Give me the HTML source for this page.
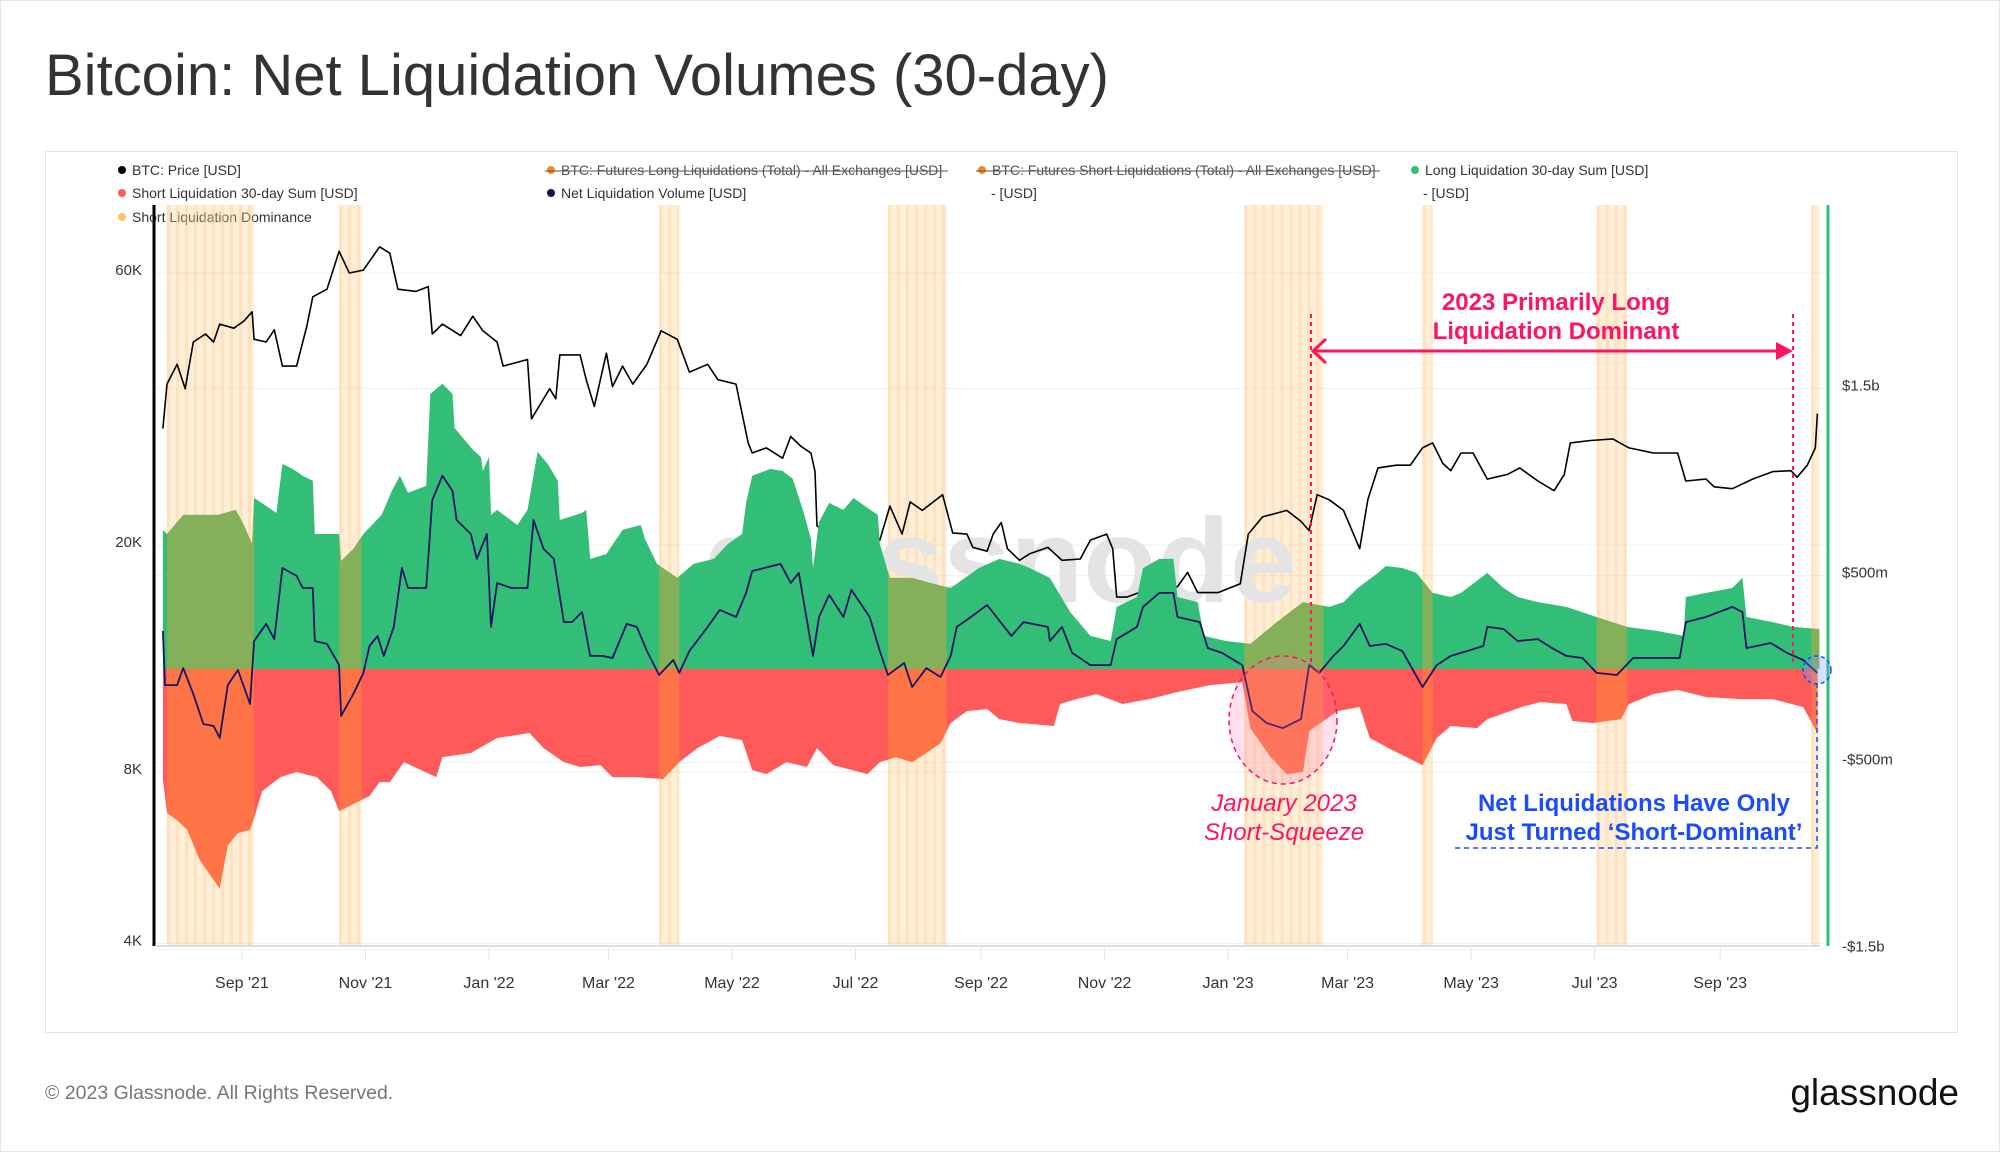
<!DOCTYPE html>
<html><head><meta charset="utf-8"><style>
html,body{margin:0;padding:0;background:#fff;}
body{width:2000px;height:1152px;overflow:hidden;font-family:"Liberation Sans",sans-serif;}
svg text{font-family:"Liberation Sans",sans-serif;}
</style></head><body>
<svg id="chart" width="2000" height="1152" viewBox="0 0 2000 1152" xmlns="http://www.w3.org/2000/svg">
<defs><clipPath id="areaClip"><path id="clipG" d=""/><path id="clipR" d=""/></clipPath></defs>
<rect x="0.5" y="0.5" width="1999" height="1151" fill="#fff" stroke="#e6e6e6"/>
<text x="45" y="95" font-size="58" fill="#333">Bitcoin: Net Liquidation Volumes (30-day)</text>
<rect x="45.5" y="151.5" width="1912" height="881" fill="#fff" stroke="#e4e4e4"/>
<g id="legend" font-size="14" fill="#333">
  <g><circle cx="122" cy="170" r="4" fill="#000"/><text x="132" y="175">BTC: Price [USD]</text></g>
  <g><circle cx="122" cy="193" r="4" fill="#ff5a5a"/><text x="132" y="198">Short Liquidation 30-day Sum [USD]</text></g>
  <g><circle cx="122" cy="217" r="4" fill="#ffc266"/><text x="132" y="222">Short Liquidation Dominance</text></g>
  <g><circle cx="551" cy="170" r="4" fill="#f28c1c"/><text x="561" y="175" fill="#555">BTC: Futures Long Liquidations (Total) - All Exchanges [USD]</text><line x1="545" y1="171" x2="948" y2="171" stroke="#555" stroke-width="1"/></g>
  <g><circle cx="551" cy="193" r="4" fill="#1b0a5c"/><text x="561" y="198">Net Liquidation Volume [USD]</text></g>
  <g><circle cx="982" cy="170" r="4" fill="#f28c1c"/><text x="992" y="175" fill="#555">BTC: Futures Short Liquidations (Total) - All Exchanges [USD]</text><line x1="976" y1="171" x2="1380" y2="171" stroke="#555" stroke-width="1"/><text x="991" y="198">- [USD]</text></g>
  <g><circle cx="1415" cy="170" r="4" fill="#2fbf71"/><text x="1425" y="175">Long Liquidation 30-day Sum [USD]</text><text x="1423" y="198">- [USD]</text></g>
</g>
<g id="grid"></g>
<g id="bandsLight"></g>
<text x="1000" y="602" font-size="120" fill="#e4e4e4" text-anchor="middle" font-weight="bold">glassnode</text>
<g id="price"></g>
<g id="areas"></g>
<g id="bands" clip-path="url(#areaClip)"></g>
<g id="net"></g>
<g id="axes"></g>
<g id="annotations">
  <line x1="1311" y1="314" x2="1311" y2="665" stroke="#ff1460" stroke-width="2" stroke-dasharray="4,4"/>
  <line x1="1793" y1="314" x2="1793" y2="665" stroke="#ff1460" stroke-width="2" stroke-dasharray="4,4"/>
  <line x1="1313" y1="351" x2="1780" y2="351" stroke="#ff1460" stroke-width="3"/>
  <polyline points="1326,339 1313,351 1326,363" fill="none" stroke="#ff1460" stroke-width="3"/>
  <polygon points="1793,351 1776,342 1776,360" fill="#ff1460"/>
  <text x="1556" y="310" font-size="24" font-weight="bold" fill="#ff1460" text-anchor="middle">2023 Primarily Long</text>
  <text x="1556" y="339" font-size="24" font-weight="bold" fill="#ff1460" text-anchor="middle">Liquidation Dominant</text>
  <ellipse cx="1283" cy="720" rx="54" ry="64" fill="rgba(255,120,170,0.22)" stroke="#ff1460" stroke-width="1.5" stroke-dasharray="5,4"/>
  <text x="1284" y="811" font-size="24" font-style="italic" fill="#ff1460" text-anchor="middle">January 2023</text>
  <text x="1284" y="840" font-size="24" font-style="italic" fill="#ff1460" text-anchor="middle">Short-Squeeze</text>
  <text x="1634" y="811" font-size="24" font-weight="bold" fill="#1a4cff" text-anchor="middle">Net Liquidations Have Only</text>
  <text x="1634" y="840" font-size="24" font-weight="bold" fill="#1a4cff" text-anchor="middle">Just Turned ‘Short-Dominant’</text>
  <polyline points="1455,848 1817,848 1817,682" fill="none" stroke="#1a4cff" stroke-width="1.5" stroke-dasharray="5,4"/>
  <circle cx="1817" cy="670" r="14" fill="rgba(120,160,255,0.3)" stroke="#1a4cff" stroke-width="1.5" stroke-dasharray="4,3"/>
</g>
<text x="45" y="1099" font-size="19.5" fill="#777">© 2023 Glassnode. All Rights Reserved.</text>
<text x="1959" y="1105" font-size="37" fill="#111" text-anchor="end">glassnode</text>
</svg>
<script>
// days since 2021-07-26
const priceDays=[-2,0,5,9,13,19,23,26,33,38,42,43,49,53,57,64,69,72,79,85,90,97,105,110,114,123,129,131,136,145,151,156,163,166,178,180,189,192,194,204,207,211,217,220,225,230,237,244,252,258,267,272,281,284,287,289,296,304,308,313,318,320,321,337,352,357,363,367,373,383,388,395,398,405,408,412,415,421,426,435,442,451,456,464,467,469,474,480,490,499,504,509,519,530,534,541,553,560,564,568,574,581,589,593,598,607,614,620,625,630,634,639,645,652,662,668,677,685,690,693,703,714,722,734,746,750,760,764,773,783,793,802,805,810,814,815];
const priceValues=[32000,38300,41500,37600,45400,46900,45400,48800,48000,49400,51300,45900,45400,47700,41200,41200,48300,54500,56200,65500,60000,60700,66700,65000,56200,55700,56800,46900,48800,46600,50400,47500,45400,41200,42300,33300,37600,36100,43100,43100,39000,35000,43400,37900,41200,38300,41500,47500,45900,40200,41500,39000,38300,34000,30200,29000,29600,28400,31000,29800,29000,26900,21600,19800,20400,23400,20900,23800,23000,24500,21000,20900,19800,19500,20900,21900,19700,18800,19300,19800,18800,18900,20400,20900,19700,16200,16200,16500,16700,16900,17900,16500,16500,17100,20900,22400,23000,22000,21200,24500,24000,23000,19700,24000,27300,27600,27600,29600,30200,27800,27000,29000,29000,26100,26600,27300,25900,24900,26600,30200,30500,30700,29600,29000,29000,25900,26100,25300,25100,26100,26900,27000,26300,27600,29600,34000];
const longDays=[-2,0,8,16,25,34,38,42,43,54,57,62,67,72,73,85,86,92,97,106,111,115,119,128,130,136,141,142,151,155,156,159,160,163,173,178,183,188,193,194,205,207,209,217,225,234,236,242,252,260,270,277,284,286,289,298,304,309,314,318,319,322,327,334,339,346,351,352,357,368,377,387,401,411,421,426,436,446,456,466,469,479,482,490,497,499,509,512,523,535,548,561,574,581,588,598,602,610,617,625,634,639,652,660,667,677,691,706,721,736,749,750,760,773,778,780,793,803,816];
const longValues=[744,722,824,824,824,851,770,669,915,835,1097,1070,1033,1006,722,722,578,642,722,824,952,1033,942,979,1471,1525,1471,1289,1172,1134,1059,1134,824,851,770,851,1161,1097,1006,797,835,851,589,615,744,770,696,562,487,562,589,669,722,888,1033,1070,1059,1017,851,696,540,786,888,851,915,861,824,669,487,487,460,433,540,589,562,540,487,305,177,150,332,385,540,589,589,385,358,177,150,134,251,358,332,358,433,514,551,540,514,407,385,407,514,433,385,358,332,278,225,203,177,385,407,433,487,278,251,225,214];
const shortDays=[-2,0,5,10,16,21,26,30,35,41,43,47,56,64,74,81,85,95,100,105,110,117,133,136,150,163,179,186,196,204,214,220,232,245,253,262,273,284,289,296,306,316,321,329,346,352,360,368,375,382,387,395,405,411,421,438,441,449,459,472,485,499,515,531,535,545,553,561,564,571,578,589,594,605,620,627,634,647,652,669,678,691,694,704,718,722,734,746,760,777,793,808,815];
const shortValues=[-589,-770,-808,-861,-1017,-1097,-1172,-942,-877,-861,-797,-653,-578,-551,-578,-653,-760,-706,-679,-605,-605,-498,-578,-471,-449,-369,-342,-423,-498,-524,-514,-578,-578,-589,-498,-423,-358,-380,-540,-562,-498,-524,-423,-514,-562,-498,-471,-498,-449,-396,-289,-225,-214,-268,-289,-305,-187,-161,-134,-187,-161,-123,-86,-70,-316,-471,-562,-551,-332,-278,-225,-203,-369,-433,-514,-369,-305,-316,-268,-203,-177,-187,-278,-289,-268,-187,-134,-112,-150,-161,-161,-203,-342];
const netDays=[-2,-1,5,8,13,18,23,26,30,35,41,43,49,53,57,64,67,72,73,79,85,86,92,97,100,104,107,112,116,119,128,131,136,141,143,150,153,158,160,163,170,178,181,186,191,196,200,205,209,215,220,227,232,237,243,250,253,258,267,273,281,286,289,303,308,312,319,322,327,334,338,347,352,356,364,368,375,382,387,390,397,405,417,423,435,436,442,447,456,466,469,479,482,490,497,499,510,514,521,531,536,543,551,560,564,569,576,581,589,594,602,610,620,627,634,639,650,652,660,667,677,684,691,699,706,716,724,747,750,760,773,778,780,792,800,808,815];
const netValues=[203,-86,-86,5,-134,-294,-305,-369,-86,-5,-187,150,241,160,540,498,433,433,150,134,21,-251,-134,-21,123,177,70,225,540,433,433,904,1033,952,797,722,589,722,225,460,433,433,797,642,589,251,251,305,70,70,59,241,225,96,-32,48,-21,96,225,316,278,407,524,562,460,514,70,278,396,278,423,278,96,-32,32,-96,5,-43,70,225,278,342,177,251,225,150,225,86,21,21,160,225,332,407,407,278,251,112,86,21,-225,-289,-316,-268,21,-21,70,123,241,123,134,96,-96,21,70,86,123,225,214,150,160,112,70,59,-21,-32,59,59,251,278,332,305,112,139,86,48,-21];
const bandStart=[0,85,243,356,532,620,706,812];
const bandEnd=[43,96,253,385,571,625,721,816];
const monthDays=[37,98,159,218,279,340,402,463,524,583,644,705,767];
const monthLabels=["Sep '21","Nov '21","Jan '22","Mar '22","May '22","Jul '22","Sep '22","Nov '22","Jan '23","Mar '23","May '23","Jul '23","Sep '23"];
const priceTicks=[60000,20000,8000,4000];
const priceTickLabels=["60K","20K","8K","4K"];
const valueTicks=[1500,500,-500,-1500];
const valueTickLabels=["$1.5b","$500m","-$500m","-$1.5b"];

const NS='http://www.w3.org/2000/svg';
const X0=155,X1=1828,TOP=205,BOT=946;
function xS(d){return 167+2.025*d;}
function yP(p){return 273+570*Math.log10(60000/p);}
function yV(m){return 669-m*0.187;}
function mk(tag,attrs,parent){const e=document.createElementNS(NS,tag);for(const k in attrs)e.setAttribute(k,attrs[k]);parent.appendChild(e);return e;}
const grid=document.getElementById('grid');
priceTicks.forEach((p,i)=>{
  const l=mk('line',{x1:X0,x2:X1,y1:yP(p),y2:yP(p),stroke:'#efefef','stroke-width':1},grid);
  
  
});
valueTicks.forEach((v,i)=>{
  const l=mk('line',{x1:X0,x2:X1,y1:yV(v),y2:yV(v),stroke:'#f2f2f2','stroke-width':1},grid);
  
  
});
function linePath(days,vals,yf){return days.map((d,i)=>(i?'L':'M')+xS(d).toFixed(1)+','+yf(vals[i]).toFixed(1)).join('');}
const bandsLight=document.getElementById('bandsLight');
const bands=document.getElementById('bands');
bandStart.forEach((s,i)=>{
  const x0=xS(s),x1=Math.max(x0+3,xS(bandEnd[i]));
  for(let x=x0;x<x1;x+=3){
    const op=(Math.floor((x-x0)/3)%3===0)?0.55:0.32;
    const r=mk('rect',{x:x,y:TOP,width:Math.min(3,x1-x),height:BOT-TOP,fill:'#fdc987',opacity:op},bandsLight);
    
    
  }
});
const price=document.getElementById('price');
const pp=mk('path',{d:linePath(priceDays,priceValues,yP),fill:'none',stroke:'#000','stroke-width':1.6,'stroke-linejoin':'round'},price);


const areas=document.getElementById('areas');
const z=yV(0);
function areaPath(days,vals){return 'M'+xS(days[0]).toFixed(1)+','+z+linePath(days,vals,yV).replace(/^M/,'L')+'L'+xS(days[days.length-1]).toFixed(1)+','+z+'Z';}
const gd=areaPath(longDays,longValues), rd=areaPath(shortDays,shortValues);
document.getElementById('clipG').setAttribute('d',gd);
document.getElementById('clipR').setAttribute('d',rd);
const ga=mk('path',{d:gd,fill:'#33be78'},areas);


const ra=mk('path',{d:rd,fill:'#ff5a5a'},areas);


bandStart.forEach((s,i)=>{
  const r=mk('rect',{x:xS(s),y:TOP,width:Math.max(3,xS(bandEnd[i])-xS(s)),height:BOT-TOP,fill:'#ff9a2a',opacity:0.4},bands);
  
  
});
const net=document.getElementById('net');
const np=mk('path',{d:linePath(netDays,netValues,yV),fill:'none',stroke:'#1b1464','stroke-width':1.8,'stroke-linejoin':'round'},net);


const axes=document.getElementById('axes');
const la=mk('line',{x1:154,x2:154,y1:TOP,y2:BOT,stroke:'#000','stroke-width':3},axes);


const rax=mk('line',{x1:1828,x2:1828,y1:TOP,y2:BOT,stroke:'#2fbf71','stroke-width':3},axes);


const bx=mk('line',{x1:155,x2:1820,y1:BOT,y2:BOT,stroke:'#dcdcdc','stroke-width':2},axes);


monthDays.forEach((d,i)=>{
  const t=mk('line',{x1:xS(d),x2:xS(d),y1:BOT,y2:BOT+14,stroke:'#e6e6e6','stroke-width':1},axes);
  
  
  const tx=mk('text',{x:xS(d),y:988,'font-size':16,fill:'#333','text-anchor':'middle'},axes);
  tx.textContent=monthLabels[i];
  
  
});
priceTicks.forEach((p,i)=>{
  const tx=mk('text',{x:142,y:yP(p)+2,'font-size':15,fill:'#333','text-anchor':'end'},axes);
  tx.textContent=priceTickLabels[i];
  
  
});
valueTicks.forEach((v,i)=>{
  const tx=mk('text',{x:1842,y:yV(v)+2,'font-size':15,fill:'#333'},axes);
  tx.textContent=valueTickLabels[i];
  
  
});
</script>
</body></html>
